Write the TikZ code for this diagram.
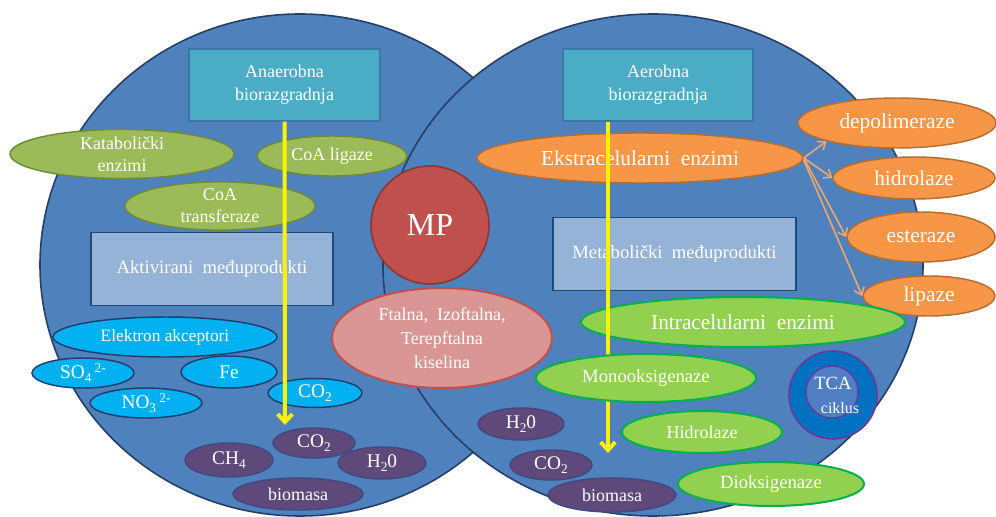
\documentclass[tikz,border=0pt]{standalone}
\usepackage{fontspec}
\setmainfont{Liberation Serif}
\usetikzlibrary{shapes.geometric,arrows.meta}
\definecolor{bigfill}{HTML}{4F81BD}
\definecolor{bigline}{HTML}{24406A}
\definecolor{tealfill}{HTML}{4BACC6}
\definecolor{tealline}{HTML}{3A78A8}
\definecolor{lightfill}{HTML}{95B3D7}
\definecolor{lightline}{HTML}{1F497D}
\definecolor{olivefill}{HTML}{9BBB59}
\definecolor{oliveline}{HTML}{6E8A3A}
\definecolor{grnfill}{HTML}{92D050}
\definecolor{grnline}{HTML}{00B050}
\definecolor{orfill}{HTML}{F79646}
\definecolor{orline}{HTML}{B66D31}
\definecolor{orarrow}{HTML}{F2A66E}
\definecolor{redfill}{HTML}{C0504D}
\definecolor{redline}{HTML}{8C3836}
\definecolor{pinkfill}{HTML}{D99694}
\definecolor{cyanfill}{HTML}{00B0F0}
\definecolor{cyanline}{HTML}{1F3F73}
\definecolor{purfill}{HTML}{5F497A}
\definecolor{purline}{HTML}{3F4A80}
\definecolor{tcaout}{HTML}{0070C0}
\definecolor{tcain}{HTML}{4F7EC4}
\definecolor{tcaline}{HTML}{6A3A9A}
\newcommand\mysub[1]{\raisebox{-0.45ex}{\fontsize{10}{10}\selectfont #1}}
\newcommand\mysup[1]{\raisebox{0.75ex}{\fontsize{10}{10}\selectfont #1}}
\begin{document}
\begin{tikzpicture}[x=0.75pt,y=-0.75pt,
  ell/.style 2 args={ellipse, minimum width=#1*0.75pt, minimum height=#2*0.75pt, inner sep=0pt, align=center, text=white, line width=1.1pt},
  olive/.style={fill=olivefill, draw=oliveline, font=\fontsize{13.5}{16.5}\selectfont},
  grn/.style={fill=grnfill, draw=grnline, line width=1.5pt, font=\fontsize{14}{16.5}\selectfont},
  orng/.style={fill=orfill, draw=orline, font=\fontsize{16}{19}\selectfont},
  cyn/.style={fill=cyanfill, draw=cyanline, font=\fontsize{14.5}{17}\selectfont},
  pur/.style={fill=purfill, draw=purline, font=\fontsize{14.5}{17}\selectfont},
  boxa/.style={rectangle, fill=tealfill, draw=tealline, line width=1pt, text=white, align=center, font=\fontsize{13.5}{17}\selectfont, minimum width=#1*0.75pt, minimum height=54pt, inner sep=0pt},
  boxb/.style={rectangle, fill=lightfill, draw=lightline, line width=1pt, text=white, align=center, font=\fontsize{14}{17}\selectfont, minimum width=#1*0.75pt, minimum height=55pt, inner sep=0pt},
  yel/.style={draw=yellow, line width=3pt, -{Straight Barb[length=6pt,width=11pt,line width=3pt]}},
  orarr/.style={draw=orarrow, line width=1.2pt, -{Straight Barb[length=5pt,width=8pt,line width=1.2pt]}},
  bigc/.style={fill=bigfill, draw=bigline, line width=1.2pt}
]
\useasboundingbox (0,0) rectangle (996,517);
\fill[white] (0,0) rectangle (996,517);
% big circles
\draw[bigc] (300,265) ellipse [x radius=260, y radius=251];
\draw[bigc] (653,265) ellipse [x radius=270, y radius=251];
% boxes
\node[boxa=191] (anb) at (284.5,85) {Anaerobna\\biorazgradnja};
\node[boxa=190] (aeb) at (658,85) {Aerobna\\biorazgradnja};
\node[boxb=242] (akt) at (212,269) {Aktivirani~ međuprodukti};
\node[boxb=243] (met) at (674.5,254) {Metabolički~ međuprodukti};
% left enzymes
\node[ell={224}{45}, olive] (kat) at (122,154) {Katabolički\\enzimi};
\node[ell={150}{40}, olive] (coal) at (332,156) {CoA ligaze};
\node[ell={190}{48}, olive] (coat) at (220,206) {CoA\\transferaze};
% electron acceptors
\node[ell={224}{40}, cyn, font=\fontsize{13}{15}\selectfont] (elek) at (165,337) {Elektron akceptori};
\node[ell={102}{30}, cyn] (so4) at (83,373) {SO\mysub{4}\,\mysup{2-}};
\node[ell={96}{32}, cyn] (fe) at (229,372) {Fe};
\node[ell={112}{30}, cyn] (no3) at (146,403) {NO\mysub{3}\,\mysup{2-}};
\node[ell={94}{29}, cyn] (co2c) at (315,393) {CO\mysub{2}};
% left products
\node[ell={88}{34}, pur] (ch4) at (229,460) {CH\mysub{4}};
\node[ell={82}{30}, pur] (co2a) at (314,443) {CO\mysub{2}};
\node[ell={88}{32}, pur] (h2oa) at (382,463) {H\mysub{2}0};
\node[ell={130}{32}, pur, font=\fontsize{13.5}{16}\selectfont] (bioa) at (298,494) {biomasa};
% left yellow arrow
\coordinate (anbend) at (285,425);
\draw[yel] (anb.south) -- (anbend);
% MP and acids
\node[circle, fill=redfill, draw=redline, line width=1.2pt, minimum size=88.5pt, inner sep=0pt, text=white, font=\fontsize{24}{28}\selectfont] (mp) at (430,225) {MP};
\node[ell={220}{100}, fill=pinkfill, draw=redfill, line width=1.5pt, font=\fontsize{13.5}{18}\selectfont] (ftal) at (442,338) {Ftalna,~ Izoftalna,\\Terepftalna\\kiselina};
% right side
\node[ell={326}{50}, orng] (ekst) at (640,158) {Ekstracelularni~ enzimi};
\node[ell={198}{50}, orng] (depo) at (897,123) {depolimeraze};
\node[ell={162}{42}, orng] (hidr) at (914,178) {hidrolaze};
\node[ell={148}{50}, orng] (ester) at (921,237) {esteraze};
\node[ell={132}{40}, orng] (lip) at (929,296) {lipaze};
\draw[orarr] (ekst.east) -- (depo.south west);
\draw[orarr] (ekst.east) -- (hidr.west);
\draw[orarr] (ekst.east) -- (ester.west);
\draw[orarr] ([yshift=-1.5pt]ekst.east) -- (lip.west);
\node[ell={324}{50}, grn, font=\fontsize{16}{19}\selectfont] (intra) at (743,322) {Intracelularni~ enzimi};
\coordinate (aebend) at (608,453);
\draw[yel] (aeb.south -| aebend) -- (aebend);
\node[ell={220}{48}, grn] (mono) at (646,378) {Monooksigenaze};
\node[ell={160}{42}, grn, font=\fontsize{13.5}{16}\selectfont] (hidg) at (702,432) {Hidrolaze};
\node[ell={186}{44}, grn] (diok) at (771,484) {Dioksigenaze};
\node[ell={86}{32}, pur] (h2ob) at (521,424) {H\mysub{2}0};
\node[ell={82}{30}, pur] (co2b) at (551,465) {CO\mysub{2}};
\node[ell={128}{34}, pur, font=\fontsize{13.5}{16}\selectfont] (biob) at (612,495) {biomasa};
% TCA
\node[circle, fill=tcaout, draw=tcaline, line width=1.2pt, minimum size=66pt, inner sep=0pt] (tcao) at (833,395) {};
\node[circle, fill=tcain, draw=tcaline, line width=1pt, minimum size=39pt, inner sep=0pt] (tcai) at (832,392) {};
\node[text=white, font=\fontsize{14}{16}\selectfont, inner sep=0pt] (tcat) at (833,383) {TCA};
\node[text=white, font=\fontsize{12}{14}\selectfont, inner sep=0pt] (tcac) at (840,408) {ciklus};
\end{tikzpicture}
\end{document}
